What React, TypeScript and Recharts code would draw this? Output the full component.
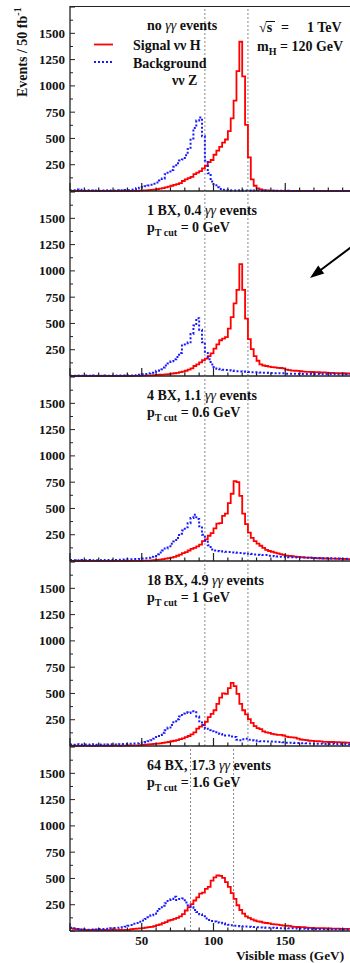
import { LineChart, Line, XAxis, YAxis, ReferenceLine } from 'recharts';

const SERIF = "'Liberation Serif', 'Times New Roman', serif";

// 2 GeV bins from 0 to 200 GeV (edges)
const EDGES = Array.from({ length: 101 }, (_, k) => 2 * k);
const X_TICKS = [0, 10, 20, 30, 40, 50, 60, 70, 80, 90, 100, 110, 120, 130, 140, 150, 160, 170, 180, 190, 200];
const X_LABELS = [50, 100, 150];
const Y_TICKS = [0, 125, 250, 375, 500, 625, 750, 875, 1000, 1125, 1250, 1375, 1500, 1625, 1750];
const Y_LABELS = [250, 500, 750, 1000, 1250, 1500];

// signal (nu nu H) and background (nu nu Z), events per bin
const SIG_0 = [
  0, 0, 0, 0, 0, 0, 0, 0, 0, 0,
  0, 0, 0, 0, 0, 0, 0, 0, 0, 0,
  0, 0, 0, 0, 3, 5, 6, 8, 10, 14,
  18, 22, 28, 35, 42, 50, 58, 65, 75, 95,
  110, 122, 135, 160, 175, 190, 215, 240, 275, 295,
  345, 385, 420, 460, 490, 570, 690, 860, 1140, 1420,
  1090, 630, 320, 110, 50, 25, 15, 8, 5, 4,
  3, 2, 2, 1, 1, 0, 0, 0, 0, 0,
  0, 0, 0, 0, 0, 0, 0, 0, 0, 0,
  0, 0, 0, 0, 0, 0, 0, 0, 0, 0,
];
const BKG_0 = [
  5, 8, 15, 12, 10, 5, 8, 5, 3, 5,
  3, 5, 4, 6, 3, 5, 8, 4, 6, 10,
  8, 12, 15, 25, 32, 38, 45, 52, 60, 70,
  80, 100, 120, 160, 185, 200, 230, 265, 290, 300,
  340, 400, 500, 600, 670, 700, 520, 290, 170, 90,
  55, 35, 20, 12, 8, 6, 5, 5, 4, 6,
  5, 4, 5, 3, 4, 5, 3, 4, 3, 2,
  3, 2, 3, 2, 2, 1, 2, 1, 1, 1,
  1, 0, 1, 0, 0, 1, 0, 0, 0, 0,
  0, 0, 0, 0, 0, 0, 0, 0, 0, 0,
];
const SIG_1 = [
  0, 0, 0, 0, 0, 0, 0, 0, 0, 0,
  0, 0, 0, 0, 0, 0, 0, 0, 0, 0,
  0, 0, 1, 2, 2, 3, 4, 5, 6, 8,
  10, 12, 14, 16, 18, 22, 26, 30, 36, 42,
  50, 60, 72, 95, 110, 130, 150, 165, 190, 215,
  260, 300, 340, 355, 370, 450, 560, 690, 820, 1065,
  820, 545, 350, 255, 190, 145, 110, 100, 95, 90,
  85, 82, 78, 76, 72, 60, 55, 52, 50, 48,
  45, 42, 40, 40, 38, 36, 36, 34, 34, 32,
  30, 30, 28, 28, 26, 26, 24, 24, 22, 22,
];
const BKG_1 = [
  3, 2, 4, 3, 2, 5, 3, 2, 4, 3,
  2, 3, 4, 2, 3, 4, 3, 5, 4, 3,
  5, 4, 6, 8, 12, 16, 20, 25, 32, 40,
  50, 65, 80, 100, 120, 140, 160, 180, 220, 290,
  300, 320, 400, 480, 550, 440, 320, 220, 160, 110,
  85, 70, 65, 60, 58, 55, 52, 48, 45, 44,
  42, 40, 38, 36, 35, 34, 33, 30, 30, 28,
  28, 27, 26, 25, 25, 22, 22, 22, 21, 21,
  20, 20, 20, 20, 19, 19, 19, 18, 18, 18,
  18, 18, 18, 17, 17, 17, 16, 16, 16, 16,
];
const SIG_2 = [
  0, 0, 0, 0, 0, 0, 0, 0, 0, 0,
  0, 0, 0, 0, 0, 0, 0, 0, 0, 0,
  0, 1, 1, 2, 2, 3, 3, 4, 5, 7,
  10, 14, 18, 22, 28, 32, 40, 50, 60, 75,
  85, 100, 115, 125, 140, 155, 190, 205, 240, 265,
  310, 355, 360, 430, 450, 550, 640, 760, 750, 620,
  450, 350, 270, 220, 190, 165, 145, 125, 105, 95,
  88, 80, 72, 65, 58, 52, 48, 45, 42, 40,
  36, 34, 32, 32, 30, 28, 26, 26, 24, 24,
  22, 22, 22, 20, 20, 20, 18, 18, 18, 16,
];
const BKG_2 = [
  10, 8, 6, 8, 10, 7, 9, 8, 6, 8,
  7, 9, 8, 10, 8, 9, 10, 12, 14, 15,
  16, 16, 18, 18, 20, 24, 26, 30, 40, 48,
  65, 80, 100, 120, 140, 165, 185, 220, 260, 290,
  320, 360, 410, 440, 400, 330, 250, 195, 150, 110,
  100, 95, 92, 90, 88, 86, 82, 80, 78, 76,
  72, 70, 68, 66, 62, 60, 58, 57, 56, 50,
  48, 45, 42, 40, 40, 38, 36, 35, 35, 34,
  34, 33, 32, 30, 30, 28, 28, 27, 26, 25,
  25, 24, 24, 23, 22, 22, 22, 20, 20, 20,
];
const SIG_3 = [
  2, 3, 2, 1, 2, 3, 2, 1, 2, 2,
  3, 2, 2, 3, 2, 4, 3, 2, 4, 3,
  4, 5, 5, 6, 8, 10, 14, 16, 18, 20,
  22, 25, 30, 34, 38, 45, 50, 56, 65, 72,
  85, 95, 110, 130, 165, 185, 200, 230, 275, 305,
  340, 400, 460, 500, 495, 550, 600, 570, 495, 400,
  340, 300, 255, 220, 190, 170, 160, 140, 130, 125,
  115, 110, 105, 105, 100, 90, 85, 82, 80, 70,
  62, 58, 55, 50, 48, 46, 45, 44, 40, 40,
  38, 38, 36, 36, 35, 34, 33, 32, 32, 30,
];
const BKG_3 = [
  15, 12, 16, 14, 13, 15, 12, 14, 16, 13,
  14, 15, 12, 14, 16, 15, 14, 16, 20, 20,
  22, 22, 24, 25, 30, 34, 38, 45, 55, 70,
  85, 105, 125, 150, 175, 200, 225, 255, 280, 310,
  320, 315, 330, 320, 280, 235, 200, 165, 150, 140,
  130, 120, 115, 110, 100, 100, 90, 85, 60, 55,
  65, 70, 60, 55, 52, 50, 46, 45, 44, 42,
  42, 40, 38, 38, 36, 32, 30, 30, 28, 28,
  26, 26, 25, 24, 24, 22, 22, 22, 20, 20,
  20, 20, 18, 18, 18, 18, 16, 16, 16, 15,
];
const SIG_4 = [
  25, 20, 15, 12, 12, 10, 8, 10, 12, 9,
  10, 8, 11, 9, 10, 12, 8, 10, 9, 11,
  10, 18, 20, 22, 25, 28, 32, 36, 40, 45,
  55, 62, 75, 85, 100, 105, 115, 125, 140, 160,
  195, 228, 255, 290, 320, 355, 365, 400, 420, 480,
  510, 530, 525, 505, 465, 420, 360, 305, 245, 200,
  165, 140, 125, 110, 100, 92, 88, 80, 76, 72,
  66, 63, 60, 55, 52, 50, 48, 42, 40, 38,
  36, 36, 32, 30, 30, 28, 28, 27, 26, 24,
  24, 22, 22, 22, 21, 20, 20, 20, 20, 18,
];
const BKG_4 = [
  30, 25, 20, 14, 12, 15, 13, 12, 14, 13,
  18, 20, 22, 22, 26, 28, 30, 32, 36, 40,
  50, 56, 68, 75, 88, 100, 115, 130, 150, 165,
  190, 210, 240, 265, 285, 305, 325, 295, 305, 310,
  270, 245, 225, 200, 180, 160, 140, 120, 105, 95,
  90, 82, 78, 74, 65, 60, 55, 50, 48, 46,
  44, 42, 40, 38, 37, 36, 34, 33, 32, 32,
  31, 30, 28, 27, 26, 26, 25, 25, 24, 24,
  23, 22, 21, 20, 20, 19, 19, 18, 18, 18,
  17, 17, 16, 16, 16, 15, 15, 15, 14, 14,
];

const SIGNALS = [SIG_0, SIG_1, SIG_2, SIG_3, SIG_4];
const BACKGROUNDS = [BKG_0, BKG_1, BKG_2, BKG_3, BKG_4];
const CUTS = [[94, 124], [94, 124], [94, 124], [94, 124], [84, 114]];
const TITLES = ['no', '1 BX, 0.4', '4 BX, 1.1', '18 BX, 4.9', '64 BX, 17.3'];
const PT_CUTS = ['', '0', '0.6', '1', '1.6'];

const PANEL_TOP = 6;
const PANEL_H = 185;
const AXIS_W = 70;
const CHART_W = 357;

function table(sig: number[], bkg: number[]) {
  // last edge repeats the last bin so the step closes at 200 GeV
  return EDGES.map((m, k) => ({ m, sig: sig[Math.min(k, sig.length - 1)], bkg: bkg[Math.min(k, bkg.length - 1)] }));
}

function XTick({ x, y, payload, showLabel }: any) {
  const v = payload.value;
  const major = v % 50 === 0;
  return (
    <g>
      <line x1={x} x2={x} y1={y} y2={y - (major ? 8 : 3.5)} stroke="#222" strokeWidth={1.2} />
      {showLabel && X_LABELS.includes(v) && (
        <text x={x} y={y + 14} textAnchor="middle" fontFamily={SERIF} fontWeight="bold" fontSize={13} fill="#111">
          {v}
        </text>
      )}
    </g>
  );
}

function YTick({ x, y, payload }: any) {
  const v = payload.value;
  const major = v % 250 === 0;
  return (
    <g>
      <line x1={x} x2={x + (major ? 5 : 3)} y1={y} y2={y} stroke="#222" strokeWidth={1} />
      {Y_LABELS.includes(v) && (
        <text x={x - 5} y={y + 4.5} textAnchor="end" fontFamily={SERIF} fontWeight="bold" fontSize={13} fill="#111">
          {v}
        </text>
      )}
    </g>
  );
}

function Panel({ i }: { i: number }) {
  const last = i === SIGNALS.length - 1;
  const xh = last ? 32 : 1;
  return (
    <div style={{ position: 'absolute', left: 0, top: PANEL_TOP + PANEL_H * i }}>
      <LineChart width={CHART_W} height={PANEL_H + xh} data={table(SIGNALS[i], BACKGROUNDS[i])}
        margin={{ top: 0, right: 0, bottom: 0, left: 0 }}>
        <XAxis dataKey="m" type="number" domain={[0, 200]} ticks={X_TICKS} interval={0} height={xh}
          tickSize={0} tickMargin={0} axisLine={{ stroke: '#222', strokeWidth: 1.3 }} tickLine={false}
          tick={(p: any) => <XTick {...p} showLabel={last} />} />
        <YAxis type="number" domain={[0, 1760]} ticks={Y_TICKS} interval={0} width={AXIS_W}
          tickSize={0} tickMargin={0} axisLine={{ stroke: '#222', strokeWidth: 1.3 }} tickLine={false}
          tick={(p: any) => <YTick {...p} />} />
        {CUTS[i].map((c) => (
          <ReferenceLine key={c} x={c} stroke="#888" strokeWidth={1} strokeDasharray="2 2" />
        ))}
        <Line type="stepAfter" dataKey="sig" stroke="#ff0000" strokeWidth={1.8} dot={false} isAnimationActive={false} />
        <Line type="stepAfter" dataKey="bkg" stroke="#1a1aff" strokeWidth={2} strokeDasharray="2 2" dot={false} isAnimationActive={false} />
      </LineChart>
    </div>
  );
}

function Overlay() {
  return (
    <svg width={350} height={963} style={{ position: 'absolute', left: 0, top: 0, pointerEvents: 'none' }}
      fontFamily={SERIF} fontWeight="bold" fill="#111">
      <line x1={AXIS_W} x2={CHART_W} y1={PANEL_TOP + 0.5} y2={PANEL_TOP + 0.5} stroke="#222" strokeWidth={1.2} />
      <text transform="translate(27,97) rotate(-90)" fontSize={14}>
        Events / 50 fb<tspan dy={-6} fontSize={10}>-1</tspan>
      </text>

      {TITLES.map((t, i) => {
        const top = PANEL_TOP + PANEL_H * i;
        return (
          <g key={t}>
            <text x={147} y={top + 24} fontSize={14}>
              {t}{' '}<tspan fontStyle="italic" fontWeight="normal">γγ</tspan>{' events'}
            </text>
            {PT_CUTS[i] && (
              <text x={147} y={top + 41} fontSize={14}>
                p<tspan dy={4} fontSize={10}>T cut</tspan><tspan dy={-4}>{` = ${PT_CUTS[i]} GeV`}</tspan>
              </text>
            )}
          </g>
        );
      })}

      {/* legend */}
      <line x1={94} x2={113} y1={44.5} y2={44.5} stroke="#ff0000" strokeWidth={1.8} />
      <text x={133} y={50} fontSize={14}>Signal νν H</text>
      <line x1={94} x2={113} y1={62} y2={62} stroke="#1a1aff" strokeWidth={2} strokeDasharray="2 2" />
      <text x={133} y={68} fontSize={14}>Background</text>
      <text x={172} y={85} fontSize={14}>νν Z</text>

      <text x={259} y={32} fontSize={14}>√s</text>
      <line x1={266} x2={275} y1={21.5} y2={21.5} stroke="#111" strokeWidth={1} />
      <text x={281} y={32} fontSize={14}>=</text>
      <text x={307} y={32} fontSize={14}>1 TeV</text>
      <text x={257} y={51} fontSize={14}>
        m<tspan dy={4} fontSize={10}>H</tspan><tspan dy={-4}> = 120 GeV</tspan>
      </text>

      {/* arrow in second panel */}
      <line x1={352} y1={246.5} x2={320} y2={270.5} stroke="#000" strokeWidth={2} />
      <polygon points="310,278 324.2,273.6 318.2,265.6" fill="#000" />

      <text x={236} y={960} fontSize={13.3}>Visible mass (GeV)</text>
    </svg>
  );
}

export default function App() {
  return (
    <div style={{ position: 'absolute', left: 0, top: 0, width: 350, height: 963, overflow: 'hidden', background: '#fff' }}>
      {SIGNALS.map((_, i) => <Panel key={i} i={i} />)}
      <Overlay />
    </div>
  );
}
